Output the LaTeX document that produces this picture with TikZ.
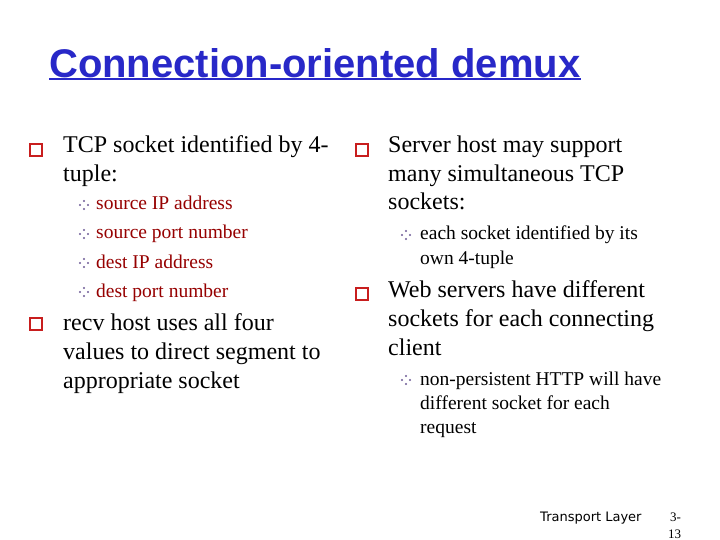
\documentclass[tikz,border=0pt]{standalone}
\usepackage{fontspec}
\setmainfont{Liberation Serif}
\newfontfamily\titlefont{Liberation Sans}
\newfontfamily\footfont{DejaVu Sans}
\definecolor{tblue}{RGB}{40,40,200}
\definecolor{dred}{RGB}{150,0,0}
\definecolor{bred}{RGB}{200,30,30}
\definecolor{bpurp}{RGB}{110,90,150}
\begin{document}
\begin{tikzpicture}[x=1pt,y=-1pt,
 tx/.style={anchor=base west,inner sep=0pt,font=\fontsize{24}{28}\selectfont},
 sx/.style={anchor=base west,inner sep=0pt,font=\fontsize{19.5}{23}\selectfont},
 sq/.pic={\draw[bred,line width=1.2pt] (0,0) rectangle (12,-12);},
 dm/.pic={\fill[bpurp] (0,-4) circle (1.2) (0,4) circle (1.2) (-4,0) circle (1.2) (4,0) circle (1.2);}]
\useasboundingbox[fill=white] (0,0) rectangle (720,540);
\node[anchor=base west,inner sep=0pt,text=tblue,font=\titlefont\bfseries\fontsize{40}{46}\selectfont] (title) at (49,78) {Connection-oriented demux};
\draw[tblue,line width=2pt] (title.south west) ++(0,0) coordinate (u1) -- (title.south east |- u1);
% left
\pic at (30,156) {sq};
\node[tx] (l1) at (63,153) {TCP socket identified by 4-};
\node[tx] (l2) at (63,182) {tuple:};
\foreach \y/\t [count=\i] in {210/source IP address,239/source port number,268/dest IP address,297/dest port number}{
 \pic at (84,\y-5) {dm};
 \node[sx,text=dred] (ls\i) at (96,\y) {\t};}
\pic at (30,330) {sq};
\node[tx] (l3) at (63,330) {recv host uses all four};
\node[tx] (l4) at (63,359) {values to direct segment to};
\node[tx] (l5) at (63,388) {appropriate socket};
% right
\pic at (356,156) {sq};
\node[tx] (r1) at (388,153) {Server host may support};
\node[tx] (r2) at (388,182) {many simultaneous TCP};
\node[tx] (r3) at (388,210) {sockets:};
\pic at (406,235) {dm};
\node[sx] (r4) at (420,240) {each socket identified by its};
\node[sx] (r5) at (420,264) {own 4-tuple};
\pic at (356,300) {sq};
\node[tx] (r6) at (388,297) {Web servers have different};
\node[tx] (r7) at (388,326) {sockets for each connecting};
\node[tx] (r8) at (388,355) {client};
\pic at (406,380) {dm};
\node[sx] (r9) at (420,385) {non-persistent HTTP will have};
\node[sx] (r10) at (420,409) {different socket for each};
\node[sx] (r11) at (420,433) {request};
% footer
\node[anchor=base west,inner sep=0pt,font=\footfont\fontsize{13}{15}\selectfont] (f1) at (540,521) {Transport Layer};
\node[anchor=base west,inner sep=0pt,font=\fontsize{13}{15}\selectfont] (f2) at (670,521) {3-};
\node[anchor=base west,inner sep=0pt,font=\fontsize{13}{15}\selectfont] (f3) at (668,538) {13};
\end{tikzpicture}
\end{document}
